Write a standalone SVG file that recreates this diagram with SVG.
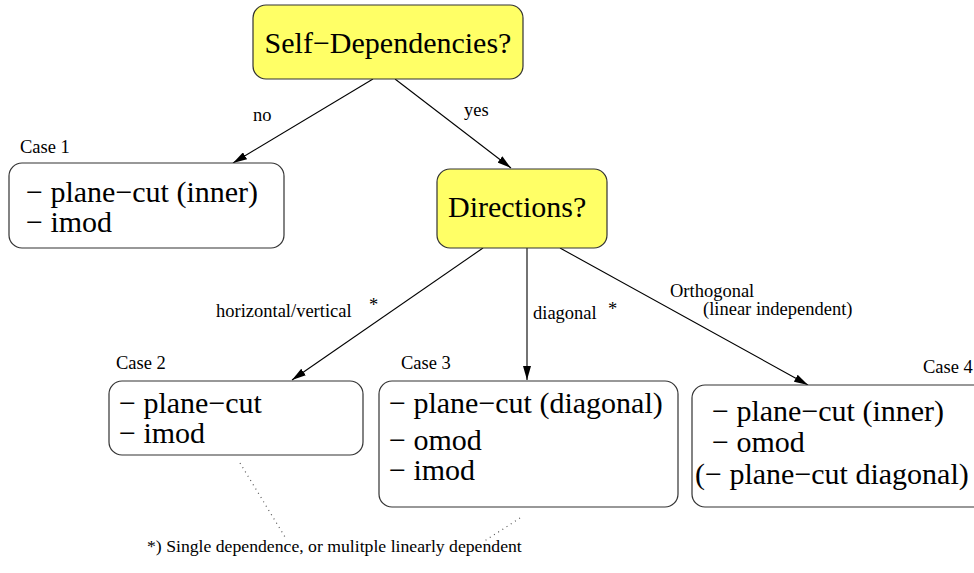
<svg xmlns="http://www.w3.org/2000/svg" width="974" height="573" viewBox="0 0 974 573">
<style>
text { font-family: "Liberation Serif", "Times New Roman", serif; fill: #000; }
.big { font-size: 30px; }
.box { font-size: 30px; }
.sm { font-size: 18.5px; }
.q { fill: #ffff66; stroke: #333; stroke-width: 1.2; }
.c { fill: #fff; stroke: #333; stroke-width: 1.2; }
.ln { stroke: #000; stroke-width: 1.1; fill: none; }
.dot { stroke: #555; stroke-width: 1.2; stroke-dasharray: 1 4; fill: none; }
</style>
<defs>
<marker id="ah" viewBox="0 0 14 8" refX="14" refY="4" markerWidth="14" markerHeight="8" markerUnits="userSpaceOnUse" orient="auto">
<path d="M0,0 L14,4 L0,8 Z" fill="#000"/>
</marker>
</defs>
<rect width="974" height="573" fill="#fff"/>
<g id="connectors">
<line class="ln" x1="373" y1="79" x2="233" y2="163" marker-end="url(#ah)"/>
<line class="ln" x1="395" y1="79" x2="511" y2="168" marker-end="url(#ah)"/>
<line class="ln" x1="483" y1="248" x2="292" y2="380" marker-end="url(#ah)"/>
<line class="ln" x1="527" y1="248" x2="527" y2="380" marker-end="url(#ah)"/>
<line class="ln" x1="560" y1="248" x2="808" y2="385" marker-end="url(#ah)"/>
<line class="dot" x1="240" y1="463" x2="285" y2="537"/>
<line class="dot" x1="520" y1="518" x2="483" y2="542"/>
<text class="sm" x="253" y="121">no</text>
<text class="sm" x="464" y="116">yes</text>
<text class="sm" x="216" y="317">horizontal/vertical</text>
<text class="sm" x="369" y="311">*</text>
<text class="sm" x="533" y="319">diagonal</text>
<text class="sm" x="608" y="315">*</text>
<text class="sm" x="670" y="297">Orthogonal</text>
<text class="sm" x="703" y="315">(linear independent)</text>
</g>
<g id="n-selfdep">
<rect class="q" x="253" y="5" width="270" height="74" rx="13"/>
<text class="big" x="388" y="53" text-anchor="middle">Self−Dependencies?</text>
</g>
<g id="n-case1">
<text class="sm" x="20" y="153">Case 1</text>
<rect class="c" x="9" y="163" width="275" height="85" rx="13"/>
<text class="box" x="26" y="202">− plane−cut (inner)</text>
<text class="box" x="26" y="232">− imod</text>
</g>
<g id="n-directions">
<rect class="q" x="437" y="169" width="170" height="79" rx="13"/>
<text class="big" x="448" y="217">Directions?</text>
</g>
<g id="n-case2">
<text class="sm" x="116" y="369">Case 2</text>
<rect class="c" x="109" y="381" width="254" height="74" rx="13"/>
<text class="box" x="119" y="413">− plane−cut</text>
<text class="box" x="119" y="443">− imod</text>
</g>
<g id="n-case3">
<text class="sm" x="401" y="369">Case 3</text>
<rect class="c" x="379" y="381" width="299" height="126" rx="13"/>
<text class="box" x="389" y="413">− plane−cut (diagonal)</text>
<text class="box" x="389" y="450">− omod</text>
<text class="box" x="389" y="480">− imod</text>
</g>
<g id="n-case4">
<text class="sm" x="923" y="373">Case 4</text>
<rect class="c" x="692" y="385" width="295" height="122" rx="13"/>
<text class="box" x="712" y="421">− plane−cut (inner)</text>
<text class="box" x="712" y="452">− omod</text>
<text class="box" x="695" y="484">(− plane−cut diagonal)</text>
</g>
<g id="footer">
<text x="147" y="552" style="font-size:17.7px">*) Single dependence, or mulitple linearly dependent</text>
</g>
</svg>
